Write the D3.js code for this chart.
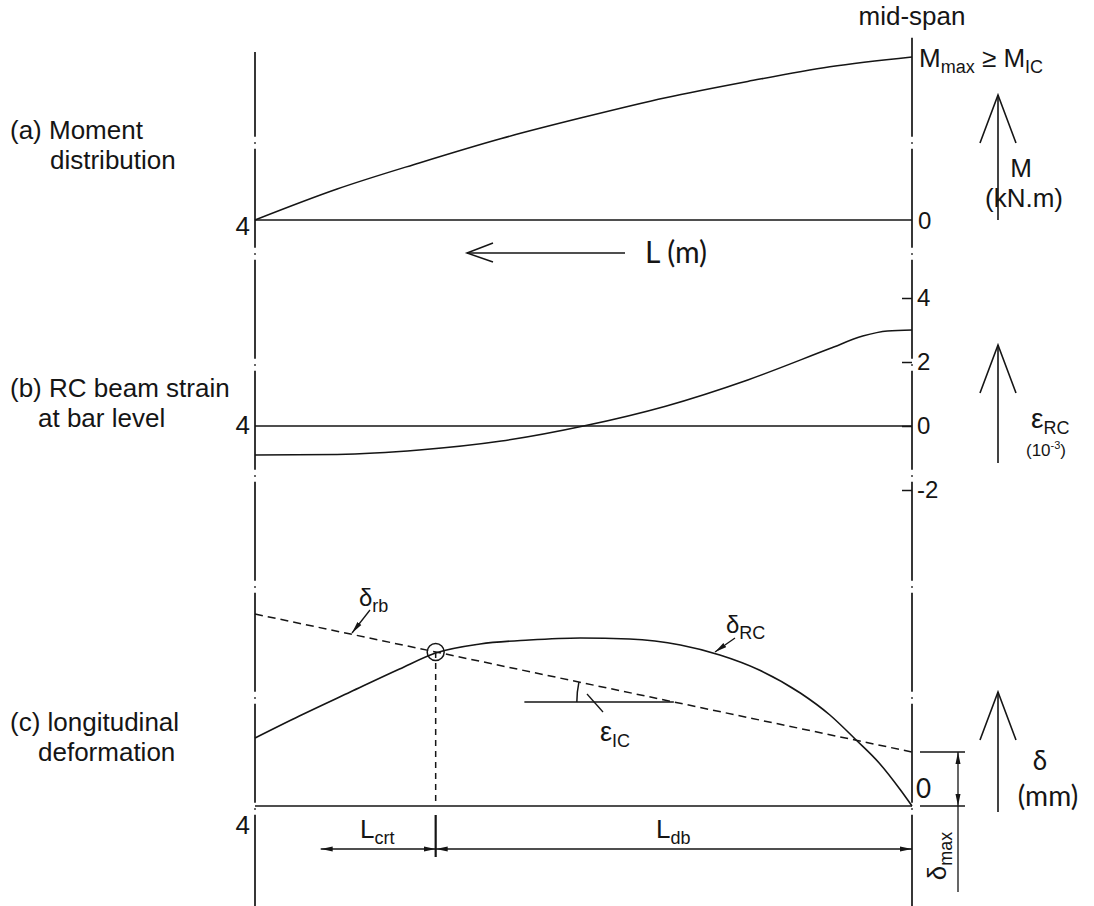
<!DOCTYPE html>
<html>
<head>
<meta charset="utf-8">
<script src="https://cdn.jsdelivr.net/npm/d3@7"></script>
<style>
  body { margin: 0; background: #fff; }
</style>
</head>
<body>
<svg id="chart"></svg>
<script>
// ---- data (L in m, measured from mid-span towards the support) ----
const spanL = [4, 0];

// (a) moment, relative to Mmax
const momentL = [4, 3.5, 3, 2.5, 2, 1.5, 1, 0.5, 0];
const momentVal = [0, 0.19, 0.35, 0.5, 0.63, 0.75, 0.85, 0.94, 1];

// (b) RC beam strain (10^-3)
const strainTicks = [4, 2, 0, -2];
const strainL = [4, 3.5, 3, 2.5, 2, 1.5, 1, 0.5, 0.3, 0.15, 0];
const strainVal = [-0.91, -0.89, -0.75, -0.47, 0, 0.62, 1.44, 2.42, 2.81, 2.97, 3.0];

// (c) longitudinal deformation (mm, relative)
const deltaRcL = [4, 3.73, 3.42, 3.12, 2.9, 2.63, 2.33, 2.02, 1.72, 1.41, 1.17, 0.93, 0.68, 0.5, 0.34, 0.2, 0.07, 0];
const deltaRcVal = [0.68, 0.9, 1.14, 1.37, 1.53, 1.62, 1.66, 1.68, 1.67, 1.61, 1.51, 1.36, 1.13, 0.91, 0.66, 0.43, 0.16, 0];
const deltaRbL = [4, 0];
const deltaRbVal = [1.92, 0.54];
const crtL = 2.9;
const eicL = [2.36, 1.45];
const lcrtArrow = [3.6, 2.9];
const ldbArrow = [2.9, 0];

const W = 1094, H = 906;
const fontMain = "'Liberation Sans', Arial, sans-serif";
const fontAlt = "Lato, 'Open Sans', sans-serif";
const ink = "#151515";

const svg = d3.select("#chart").attr("width", W).attr("height", H)
  .style("font-family", fontMain);

const x = d3.scaleLinear().domain(spanL).range([255, 912]);
const yM = d3.scaleLinear().domain([0, 1]).range([220, 57]);
const yE = d3.scaleLinear().domain([-2, 4]).range([490, 298]);
const yD = d3.scaleLinear().domain([0, 1]).range([806, 706]);

const defs = svg.append("defs");
defs.append("marker")
  .attr("id", "arr")
  .attr("viewBox", "0 0 12 6")
  .attr("refX", 12).attr("refY", 3)
  .attr("markerWidth", 12).attr("markerHeight", 6)
  .attr("markerUnits", "userSpaceOnUse")
  .attr("orient", "auto-start-reverse")
  .append("path").attr("d", "M0,0.5L12,3L0,5.5Z").attr("fill", ink);

function line(x1, y1, x2, y2, w) {
  return svg.append("line")
    .attr("x1", x1).attr("y1", y1).attr("x2", x2).attr("y2", y2)
    .attr("stroke", ink).attr("stroke-width", w || 1.5);
}

// dash-dot reference lines at support and mid-span
function dashDot(xp, y0, y1) {
  const period = 111;
  line(xp, y0, xp, y1, 1.7)
    .attr("stroke-dasharray", "99,5.5,1.5,5")
    .attr("stroke-dashoffset", ((y0 - 37.75) % period + period) % period);
}
dashDot(x(4), 52, 906);
dashDot(x(0), 37, 906);

// text helper with optional subscript / superscript parts
function label(px, py, parts, opts) {
  opts = opts || {};
  const t = svg.append("text")
    .attr("x", px).attr("y", py)
    .attr("fill", ink)
    .attr("font-size", opts.size || 26)
    .attr("font-family", opts.font || fontMain)
    .attr("text-anchor", opts.anchor || "start");
  if (opts.transform) t.attr("transform", opts.transform);
  let shift = 0;
  parts.forEach(p => {
    if (typeof p === "string") p = { t: p };
    const want = p.sub ? 6 : p.sup ? -7 : 0;
    t.append("tspan")
      .attr("dy", want - shift)
      .attr("font-size", p.size || null)
      .text(p.t);
    shift = want;
  });
  return t;
}

// big open arrows on the right
function bigArrow(px, yTop, yBot) {
  line(px, yBot, px, yTop, 1.6);
  svg.append("path")
    .attr("d", `M${px - 18},${yTop + 48}L${px},${yTop}L${px + 18},${yTop + 48}`)
    .attr("fill", "none").attr("stroke", ink).attr("stroke-width", 1.6);
}

// ---------------- titles ----------------
label(912, 25, ["mid-span"], { anchor: "middle" });

label(10, 139, ["(a) Moment"]);
label(50, 169, ["distribution"]);
label(10, 397, ["(b) RC beam strain"]);
label(38, 427, ["at bar level"]);
label(10, 731, ["(c) longitudinal"]);
label(38, 761, ["deformation"]);

label(250, 235, ["4"], { anchor: "end" });
label(250, 434, ["4"], { anchor: "end" });
label(250, 834, ["4"], { anchor: "end" });

// ---------------- (a) moment ----------------
line(x(4), yM(0), x(0), yM(0));
svg.append("path")
  .datum(momentL.map((l, i) => [l, momentVal[i]]))
  .attr("fill", "none").attr("stroke", ink).attr("stroke-width", 1.5)
  .attr("d", d3.line().x(d => x(d[0])).y(d => yM(d[1])).curve(d3.curveMonotoneX));

label(918, yM(0) + 9, ["0"], { size: 24 });
label(919, 67, ["M", { t: "max", sub: true, size: 18 }, " ≥ M", { t: "IC", sub: true, size: 18 }], { size: 26 });

bigArrow(998, 95, 220);
label(1021, 177, ["M"], { anchor: "middle" });
label(1024, 207, ["(kN.m)"], { anchor: "middle" });

// L (m) arrow
line(625, 253, 467, 253, 1.5);
svg.append("path")
  .attr("d", "M493,243L467,253L493,262")
  .attr("fill", "none").attr("stroke", ink).attr("stroke-width", 1.5);
label(645, 263, ["L (m)"], { font: fontAlt, size: 30 });

// ---------------- (b) strain ----------------
line(x(4), yE(0), x(0), yE(0));
svg.append("path")
  .datum(strainL.map((l, i) => [l, strainVal[i]]))
  .attr("fill", "none").attr("stroke", ink).attr("stroke-width", 1.5)
  .attr("d", d3.line().x(d => x(d[0])).y(d => yE(d[1])).curve(d3.curveMonotoneX));

const axisE = svg.append("g")
  .attr("transform", `translate(${x(0)},0)`)
  .call(d3.axisRight(yE).tickValues(strainTicks).tickSize(-10).tickPadding(5)
    .tickFormat(d => String(d)));
axisE.select(".domain").remove();
axisE.selectAll("line").attr("stroke", ink).attr("stroke-width", 1.5);
axisE.selectAll("text").attr("font-size", 24).attr("font-family", fontMain).attr("fill", ink);

bigArrow(998, 345, 463);
label(1031, 428, ["ε", { t: "RC", sub: true, size: 18 }], { size: 28 });
label(1026, 456, ["(10", { t: "-3", sup: true, size: 11 }, ")"], { size: 17 });

// ---------------- (c) deformation ----------------
line(x(4), yD(0), x(0), yD(0));

svg.append("path")
  .datum(deltaRbL.map((l, i) => [l, deltaRbVal[i]]))
  .attr("fill", "none").attr("stroke", ink).attr("stroke-width", 1.5)
  .attr("stroke-dasharray", "8,5")
  .attr("d", d3.line().x(d => x(d[0])).y(d => yD(d[1])));

svg.append("path")
  .datum(deltaRcL.map((l, i) => [l, deltaRcVal[i]]))
  .attr("fill", "none").attr("stroke", ink).attr("stroke-width", 1.6)
  .attr("d", d3.line().x(d => x(d[0])).y(d => yD(d[1])).curve(d3.curveMonotoneX));

const rbAt = l => deltaRbVal[0] + (deltaRbVal[1] - deltaRbVal[0]) * (deltaRbL[0] - l) / (deltaRbL[0] - deltaRbL[1]);
const cx = x(crtL), cy = yD(rbAt(crtL));
svg.append("circle").attr("cx", cx).attr("cy", cy).attr("r", 8.5)
  .attr("fill", "none").attr("stroke", ink).attr("stroke-width", 1.5);
line(cx, cy, cx, yD(0), 1.5).attr("stroke-dasharray", "6,5");
line(cx, 815, cx, 857, 2.2);

// eps_IC construction
const eicY = yD(rbAt(eicL[1]));
line(x(eicL[0]), eicY, x(eicL[1]), eicY, 1.5);
const ax = x(eicL[1]), r = 97;
const th = Math.atan((yD(deltaRbVal[1]) - yD(deltaRbVal[0])) / (x(deltaRbL[1]) - x(deltaRbL[0])));
svg.append("path")
  .attr("d", `M${ax - r},${eicY}A${r},${r} 0 0 1 ${ax - r * Math.cos(th)},${eicY - r * Math.sin(th)}`)
  .attr("fill", "none").attr("stroke", ink).attr("stroke-width", 1.5);
line(587, 694, 603, 712, 1.3);
label(600, 741, ["ε", { t: "IC", sub: true, size: 18 }], { size: 27 });

// leaders
line(370, 610, 352, 633, 1.3).attr("marker-end", "url(#arr)");
label(359, 606, ["δ", { t: "rb", sub: true, size: 18 }], { size: 24 });
line(735, 638, 715, 652, 1.3).attr("marker-end", "url(#arr)");
label(726, 633, ["δ", { t: "RC", sub: true, size: 18 }], { size: 24 });

label(916, 798, ["0"], { font: fontAlt, size: 26 });

// dimension lines
line(x(lcrtArrow[0]), 849, x(lcrtArrow[1]), 849, 1.3)
  .attr("marker-start", "url(#arr)").attr("marker-end", "url(#arr)");
line(x(ldbArrow[0]), 849, x(ldbArrow[1]), 849, 1.3)
  .attr("marker-start", "url(#arr)").attr("marker-end", "url(#arr)");
label(360, 838, ["L", { t: "crt", sub: true, size: 18 }], { size: 26 });
label(656, 838, ["L", { t: "db", sub: true, size: 18 }], { size: 26 });

const topD = yD(deltaRbVal[1]);
line(920, topD, 965, topD, 1.3);
line(920, yD(0), 965, yD(0), 1.3);
line(958, yD(0), 958, topD, 1.3)
  .attr("marker-start", "url(#arr)").attr("marker-end", "url(#arr)");
line(958, yD(0), 958, 892, 1.3);
label(946, 856, ["δ", { t: "max", sub: true, size: 18 }], { size: 26, anchor: "middle", transform: "rotate(-90,946,856)" });

bigArrow(998, 692, 812);
label(1040, 770, ["δ"], { font: fontAlt, size: 26, anchor: "middle" });
label(1048, 806, ["(mm)"], { font: fontAlt, size: 28, anchor: "middle" });
</script>
</body>
</html>
